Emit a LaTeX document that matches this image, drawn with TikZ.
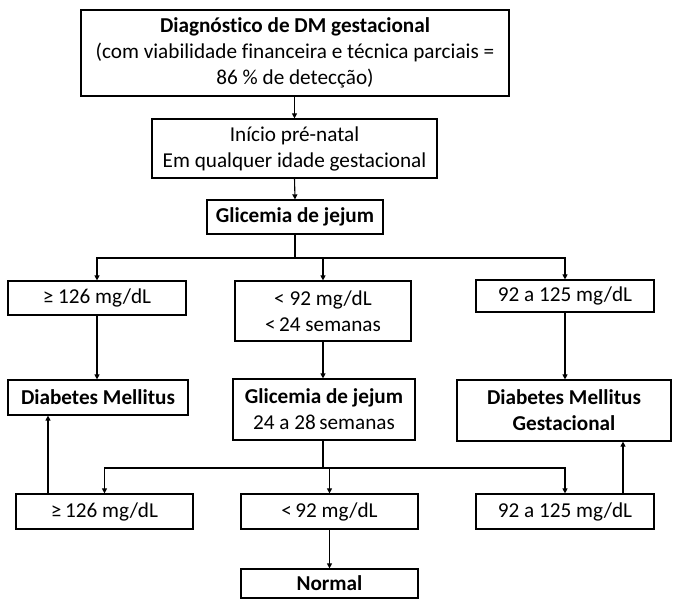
\documentclass[tikz,border=0pt]{standalone}
\usepackage{fontspec}
\setmainfont{Carlito}[Ligatures=NoCommon]
\usetikzlibrary{arrows.meta}
\begin{document}
\begin{tikzpicture}[x=1pt,y=-1pt,
  box/.style={draw, line width=1.2pt, inner sep=0pt, align=center,
    font=\fontsize{21.2}{26}\selectfont},
  arr/.style={line width=1.1pt, -{Triangle[length=5pt,width=5pt]}},
  ln/.style={line width=1.1pt}]
\useasboundingbox (0,0) rectangle (674,600);
% row 0
\node[box, minimum width=428pt, minimum height=86pt] (b1) at (295,53)
  {\textbf{Diagnóstico de DM gestacional}\\(com viabilidade financeira e técnica parciais =\\86 \% de detecção)};
\node[box, minimum width=285pt, minimum height=59pt] (b2) at (294.5,148.5)
  {Início pré-natal\\Em qualquer idade gestacional};
\node[box, minimum width=176pt, minimum height=34pt] (b3) at (295,217)
  {\textbf{Glicemia de jejum}};
% row 1
\node[box, minimum width=178pt, minimum height=34pt] (b4) at (97,298) {≥ 126 mg/dL};
\node[box, minimum width=176pt, minimum height=60pt] (b5) at (323,311) {< 92 mg/dL\\<\,24 semanas};
\node[box, minimum width=178pt, minimum height=32pt] (b6) at (565,296) {92 a 125 mg/dL};
% row 2
\node[box, minimum width=180pt, minimum height=35pt] (b7) at (98,397.5) {\textbf{Diabetes Mellitus}};
\node[box, minimum width=182pt, minimum height=61pt] (b8) at (324,409.5) {\textbf{Glicemia de jejum}\\24 a 28\,semanas};
\node[box, minimum width=214pt, minimum height=61pt] (b9) at (564,410.5) {\textbf{Diabetes Mellitus}\\\textbf{Gestacional}};
% row 3
\node[box, minimum width=177pt, minimum height=35pt] (b10) at (104.5,511.5) {≥\,126 mg/dL};
\node[box, minimum width=177pt, minimum height=35pt] (b11) at (329.5,511.5) {<\,92 mg/dL};
\node[box, minimum width=178pt, minimum height=35pt] (b12) at (565,511.5) {92 a 125 mg/dL};
% row 4
\node[box, minimum width=177pt, minimum height=29pt] (b13) at (329.5,583.5) {\textbf{Normal}};
% junctions
\coordinate (j1) at (295,258);
\coordinate (j2) at (323,468);
\coordinate (u1) at (48,494);
\coordinate (u2) at (623,494);
% connectors
\draw[arr] (b1.south -| b2.north) -- (b2.north);
\draw[arr] (b2.south) -- (b3.north);
\draw[ln] (b3.south) -- (j1);
\draw[arr] (j1) -| (b4.north);
\draw[arr] (j1) -| (b6.north);
\draw[arr] (j1 -| b5.north) -- (b5.north);
\draw[arr] (b4.south) -- (b4.south |- b7.north);
\draw[arr] (b5.south) -- (b5.south |- b8.north);
\draw[arr] (b6.south) -- (b6.south |- b9.north);
\draw[ln] (b8.south -| j2) -- (j2);
\draw[arr] (j2) -| (b10.north);
\draw[arr] (j2) -| (b12.north);
\draw[arr] (j2 -| b11.north) -- (b11.north);
\draw[arr] (b11.south) -- (b13.north);
\draw[arr] (u1) -- (u1 |- b7.south);
\draw[arr] (u2) -- (u2 |- b9.south);
\end{tikzpicture}
\end{document}
